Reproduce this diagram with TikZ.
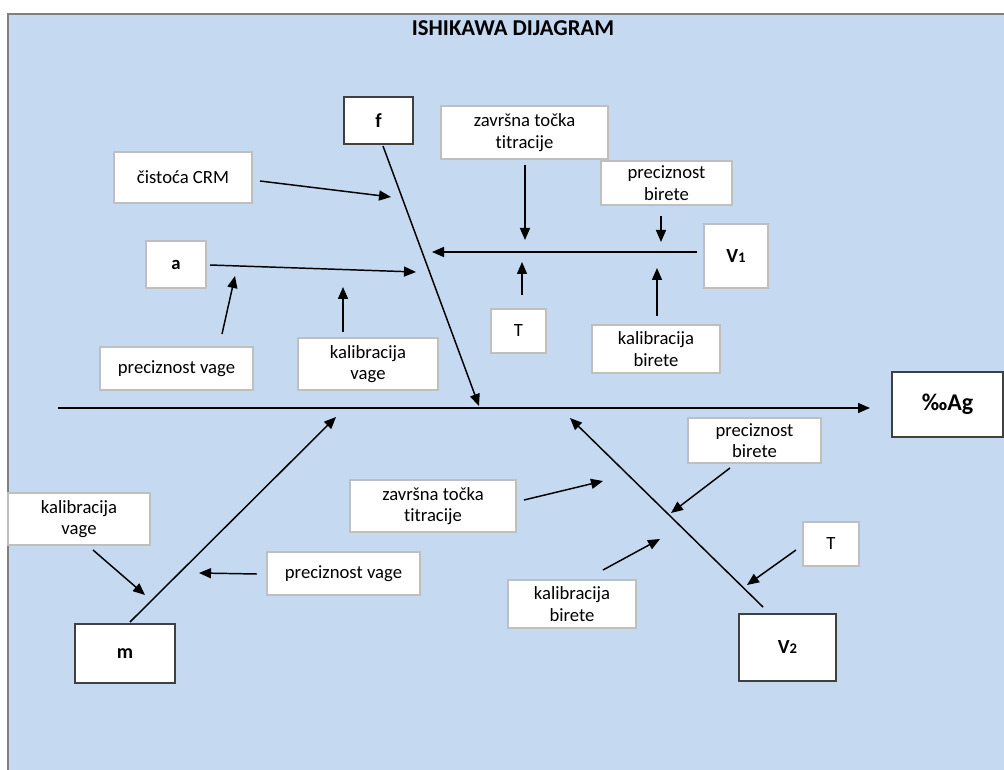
\documentclass[tikz,border=0pt]{standalone}
\usepackage{fontspec}
\setmainfont[RawFeature=-liga]{Carlito}
\usetikzlibrary{arrows.meta}
\definecolor{bgblue}{HTML}{C5D9F1}
\definecolor{lightedge}{HTML}{BFBFBF}
\definecolor{darkedge}{HTML}{404040}
\begin{document}
\begin{tikzpicture}[x=0.75pt,y=-0.75pt,
  cause/.style={draw=lightedge,line width=0.8pt,fill=white,inner sep=0pt,align=center,font=\fontsize{14}{16}\selectfont},
  mainbox/.style={draw=darkedge,line width=1.4pt,fill=white,inner sep=0pt,align=center,font=\fontsize{15}{17}\selectfont\bfseries},
  arr/.style={line width=1.1pt,-{Triangle[length=9pt,width=7.5pt]}}]
\useasboundingbox (0,0) rectangle (1004,770);
\fill[bgblue] (8,14) rectangle (1004,770);
\draw[gray,line width=1.2pt] (8,770) -- (8,14) -- (1004,14);
\node[font=\fontsize{17}{19}\selectfont\bfseries] (title) at (513,28) {ISHIKAWA DIJAGRAM};
% main boxes
\node[mainbox,font=\fontsize{18}{20}\selectfont\bfseries,minimum width=83.25pt,minimum height=48.75pt] (ag) at (947.5,404.5) {‰Ag};
\node[mainbox,minimum width=51.75pt,minimum height=35.25pt] (f) at (378.5,120.5) {f};
\node[mainbox,minimum width=75pt,minimum height=44.25pt] (m) at (125,653.5) {m};
\node[mainbox,minimum width=72.75pt,minimum height=50.25pt] (v2) at (787.5,647.5) {V{\fontsize{11}{12}\selectfont 2}};
\node[cause,font=\fontsize{15}{17}\selectfont\bfseries,minimum width=48pt,minimum height=48pt] (v1) at (736,256) {V{\fontsize{11}{12}\selectfont 1}};
% cause boxes
\node[cause,minimum width=103.5pt,minimum height=38.25pt] (crm) at (183,177.5) {čistoća CRM};
\node[cause,font=\fontsize{14}{16}\selectfont\bfseries,minimum width=45pt,minimum height=35.25pt] (a) at (176,264.5) {a};
\node[cause,minimum width=114.75pt,minimum height=32.25pt] (pv1) at (176.5,368.5) {preciznost vage};
\node[cause,minimum width=105pt,minimum height=39pt] (kv1) at (368,364) {kalibracija\\vage};
\node[cause,minimum width=125.25pt,minimum height=39.75pt] (zt1) at (524.5,132.5) {završna točka\\titracije};
\node[cause,minimum width=98.25pt,minimum height=33pt] (pb1) at (666.5,183) {preciznost\\birete};
\node[cause,minimum width=41.25pt,minimum height=33pt] (t1) at (518.5,331) {T};
\node[cause,minimum width=96pt,minimum height=36pt] (kb1) at (656,349) {kalibracija\\birete};
\node[cause,minimum width=106.5pt,minimum height=39pt] (kv2) at (79,519) {kalibracija\\vage};
\node[cause,minimum width=114.75pt,minimum height=32.25pt] (pv2) at (343.5,573.5) {preciznost vage};
\node[cause,minimum width=124.5pt,minimum height=39pt] (zt2) at (433,506) {završna točka\\titracije};
\node[cause,minimum width=96pt,minimum height=36pt] (kb2) at (572,604) {kalibracija\\birete};
\node[cause,minimum width=99.75pt,minimum height=33.75pt] (pb2) at (754.5,440.5) {preciznost\\birete};
\node[cause,minimum width=42pt,minimum height=33pt] (t2) at (831,544) {T};
% spine
\coordinate (spS) at (58,408);
\coordinate (spE) at (870,408);
\draw[arr] (spS) -- (spE);
% bones
\coordinate (fS) at (383,146); \coordinate (fE) at (479,406);
\draw[arr] (fS) -- (fE);
\coordinate (v1S) at (697,252); \coordinate (v1E) at (432,252);
\draw[arr] (v1S) -- (v1E);
\coordinate (mS) at (130,622); \coordinate (mE) at (336,417);
\draw[arr] (mS) -- (mE);
\coordinate (v2S) at (763,607); \coordinate (v2E) at (570,418);
\draw[arr] (v2S) -- (v2E);
% cause arrows
\coordinate (crmS) at (260,181); \coordinate (crmE) at (391,197);
\draw[arr] (crmS) -- (crmE);
\coordinate (aS) at (210,265); \coordinate (aE) at (416,272);
\draw[arr] (aS) -- (aE);
\coordinate (pv1S) at (222,334); \coordinate (pv1E) at (235,276);
\draw[arr] (pv1S) -- (pv1E);
\coordinate (kv1S) at (343,332); \coordinate (kv1E) at (343,287);
\draw[arr] (kv1S) -- (kv1E);
\coordinate (zt1S) at (525,165); \coordinate (zt1E) at (525,240);
\draw[arr] (zt1S) -- (zt1E);
\coordinate (pb1S) at (661,216); \coordinate (pb1E) at (661,242);
\draw[arr] (pb1S) -- (pb1E);
\coordinate (t1S) at (522,295); \coordinate (t1E) at (522,262);
\draw[arr] (t1S) -- (t1E);
\coordinate (kb1S) at (657,316); \coordinate (kb1E) at (657,268);
\draw[arr] (kb1S) -- (kb1E);
\coordinate (kv2S) at (93,550); \coordinate (kv2E) at (145,595);
\draw[arr] (kv2S) -- (kv2E);
\coordinate (pv2S) at (257,574); \coordinate (pv2E) at (199,573);
\draw[arr] (pv2S) -- (pv2E);
\coordinate (zt2S) at (524,500); \coordinate (zt2E) at (603,481);
\draw[arr] (zt2S) -- (zt2E);
\coordinate (kb2S) at (603,570); \coordinate (kb2E) at (660,539);
\draw[arr] (kb2S) -- (kb2E);
\coordinate (pb2S) at (730,468); \coordinate (pb2E) at (671,513);
\draw[arr] (pb2S) -- (pb2E);
\coordinate (t2S) at (796,550); \coordinate (t2E) at (747,585);
\draw[arr] (t2S) -- (t2E);
\end{tikzpicture}
\end{document}
